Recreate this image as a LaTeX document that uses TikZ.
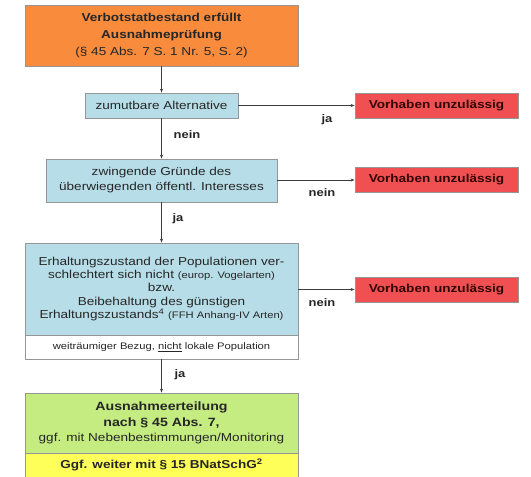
\documentclass[tikz,border=0pt]{standalone}
\usepackage{fontspec}
\setmainfont[FakeStretch=1.18]{Liberation Sans}
\usetikzlibrary{arrows.meta}
\definecolor{orangebox}{RGB}{249,139,60}
\definecolor{bluebox}{RGB}{183,222,232}
\definecolor{redbox}{RGB}{240,80,82}
\definecolor{greenbox}{RGB}{196,236,128}
\definecolor{yellowbox}{RGB}{255,255,90}
\definecolor{boxline}{RGB}{150,150,150}
\definecolor{linecol}{RGB}{60,60,60}
\definecolor{redtext}{RGB}{50,5,5}
\tikzset{
  box/.style={draw=boxline, line width=0.8pt, inner sep=1pt, align=center, font=\fontsize{11.5}{15}\selectfont, text=black!85},
  stopbox/.style={box, fill=redbox, minimum width=163pt, minimum height=25pt, font=\fontsize{11.5}{13.5}\selectfont\bfseries, text=redtext},
  conn/.style={draw=linecol, line width=0.7pt, -{Stealth[length=4pt,width=3pt]}},
  lbl/.style={font=\fontsize{11}{12}\selectfont\bfseries, text=black!85}
}
\newcommand{\smalltxt}{\fontsize{9.5}{11}\selectfont}
\begin{document}
\begin{tikzpicture}[x=1pt,y=-1pt]
\useasboundingbox (0,0) rectangle (531,477);
\node[box, fill=orangebox, minimum width=273pt, minimum height=61pt, font=\fontsize{11.5}{16.7}\selectfont] (start) at (161.5,35.5)
  {\textbf{Verbotstatbestand erfüllt}\\\textbf{Ausnahmeprüfung}\\(§ 45 Abs. 7 S. 1 Nr. 5, S. 2)};
\node[box, fill=bluebox, minimum width=153pt, minimum height=25pt] (alt) at (161.5,105.5) {zumutbare Alternative};
\node[box, fill=bluebox, minimum width=231pt, minimum height=43pt] (grund) at (161.5,180.5)
  {zwingende Gründe des\\überwiegenden öffentl. Interesses};
\node[box, fill=bluebox, minimum width=273pt, minimum height=92pt, font=\fontsize{11.5}{13.4}\selectfont] (erh) at (161.5,289)
  {Erhaltungszustand der Populationen ver-\\schlechtert sich nicht {\smalltxt(europ. Vogelarten)}\\bzw.\\Beibehaltung des günstigen\\Erhaltungszustands\textsuperscript{4} {\smalltxt(FFH Anhang-IV Arten)}};
\node[box, fill=white, minimum width=273pt, minimum height=24pt, font=\smalltxt] (bez) at (161.5,347)
  {weiträumiger Bezug, \underline{nicht} lokale Population};
\node[box, fill=greenbox, minimum width=273pt, minimum height=60pt, font=\fontsize{11.5}{15.5}\selectfont] (aus) at (161.5,423)
  {\fontsize{12}{15.5}\selectfont\textbf{Ausnahmeerteilung}\\\fontsize{12}{15.5}\selectfont\textbf{nach § 45 Abs. 7,}\\ggf. mit Nebenbestimmungen/Monitoring};
\node[box, fill=yellowbox, minimum width=273pt, minimum height=24pt, font=\fontsize{11.5}{13.5}\selectfont\bfseries] (weiter) at (161.5,465)
  {Ggf. weiter mit § 15 BNatSchG\textsuperscript{2}};
\node[stopbox] (r1) at (436.5,105.5) {Vorhaben unzulässig};
\node[stopbox] (r2) at (436.5,180) {Vorhaben unzulässig};
\node[stopbox] (r3) at (436.5,289.5) {Vorhaben unzulässig};
\draw[conn] (start) -- (alt);
\draw[conn] (alt) -- (grund);
\draw[conn] (grund) -- (erh);
\draw[conn] (bez) -- (aus);
\draw[conn] (alt.east) -- (r1.west);
\draw[conn] (grund.east |- r2.west) -- (r2.west);
\draw[conn] (erh.east |- r3.west) -- (r3.west);
\node[lbl] (l1) at (327,120) {ja};
\node[lbl] (l2) at (187,135) {nein};
\node[lbl] (l3) at (322,193) {nein};
\node[lbl] (l4) at (178,219) {ja};
\node[lbl] (l5) at (322,303) {nein};
\node[lbl] (l6) at (180,375) {ja};
\end{tikzpicture}
\end{document}
